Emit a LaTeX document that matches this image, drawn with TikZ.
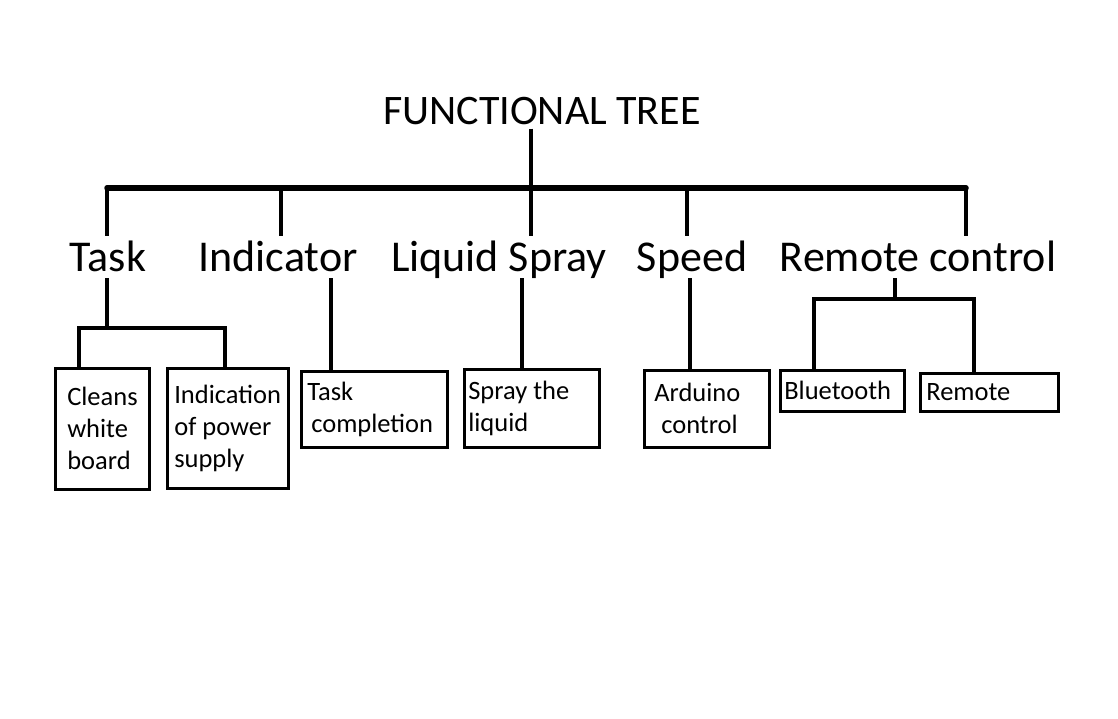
\documentclass[tikz,border=0pt]{standalone}
\usepackage{fontspec}
\setmainfont{Carlito}

\tikzset{
  heading/.style={font=\fontsize{42}{48}\selectfont, inner sep=3pt, anchor=base},
  branch/.style={font=\fontsize{44}{50}\selectfont, text height=28pt, text depth=0pt, inner xsep=0pt, inner ysep=7pt, anchor=base},
  leaf/.style={draw, line width=2.6pt, anchor=north west, align=flush left, inner ysep=0pt, font=\fontsize{26.5}{32}\selectfont},
  link/.style={line width=4pt},
  trunk/.style={line width=5.5pt, line cap=round},
}

\begin{document}
\begin{tikzpicture}[x=1pt, y=-1pt]

\useasboundingbox[fill=white] (0,0) rectangle (1118,719);

\node[heading] (title) at (542,125) {FUNCTIONAL TREE};

\node[branch] (task) at (108,271) {Task};
\node[branch] (indicator) at (278,271) {Indicator};
\node[branch] (liquid) at (499,271) {Liquid Spray};
\node[branch] (speed) at (692,271) {Speed};
\node[branch] (remotectl) at (918,271) {Remote control};

\node[leaf, inner xsep=12pt, text width=70pt, minimum height=121pt] (cleans) at (54,367) {Cleans\\white\\board};
\node[leaf, inner xsep=7pt, text width=107pt, minimum height=120pt] (indication) at (166,367) {Indication\\of power\\supply};
\node[leaf, inner xsep=6pt, text width=134pt, minimum height=76pt] (completion) at (300,370) {Task\\\hspace*{4pt}completion};
\node[leaf, inner xsep=4pt, text width=127pt, minimum height=78pt] (spray) at (463,368) {Spray the\\liquid};
\node[leaf, inner xsep=10pt, text width=105pt, minimum height=77pt] (arduino) at (643,369) {Arduino\\\hspace*{7pt}control};
\node[leaf, inner xsep=4pt, text width=116pt, minimum height=41pt] (bluetooth) at (779,369) {Bluetooth};
\node[leaf, inner xsep=6pt, text width=126pt, minimum height=38pt] (remote) at (919,372) {Remote};

% top level
\coordinate (jTask) at (107,188);
\coordinate (jIndicator) at (281,188);
\coordinate (jLiquid) at (531,188);
\coordinate (jSpeed) at (687,188);
\coordinate (jRemote) at (966,188);

\draw[trunk] (jTask) -- (jRemote);
\draw[link] (title.south -| jLiquid) -- (jLiquid);
\draw[link] (jTask) -- (jTask |- task.north);
\draw[link] (jIndicator) -- (jIndicator |- indicator.north);
\draw[link] (jLiquid) -- (jLiquid |- liquid.north);
\draw[link] (jSpeed) -- (jSpeed |- speed.north);
\draw[link] (jRemote) -- (jRemote |- remotectl.north);

% second level
\coordinate (tFork) at (107,328);
\coordinate (tL) at (79,328);
\coordinate (tR) at (225,328);
\draw[link] (tFork |- task.south) -- (tFork);
\draw[link] (tL |- cleans.north) -- (tL) -- (tR) -- (tR |- indication.north);

\coordinate (iDrop) at (331,0);
\draw[link] (iDrop |- indicator.south) -- (iDrop |- completion.north);

\coordinate (lDrop) at (522,0);
\draw[link] (lDrop |- liquid.south) -- (lDrop |- spray.north);

\coordinate (sDrop) at (690,0);
\draw[link] (sDrop |- speed.south) -- (sDrop |- arduino.north);

\coordinate (rFork) at (895,299);
\coordinate (rL) at (814,299);
\coordinate (rR) at (974,299);
\draw[link] (rFork |- remotectl.south) -- (rFork);
\draw[link] (rL |- bluetooth.north) -- (rL) -- (rR) -- (rR |- remote.north);

\end{tikzpicture}
\end{document}
